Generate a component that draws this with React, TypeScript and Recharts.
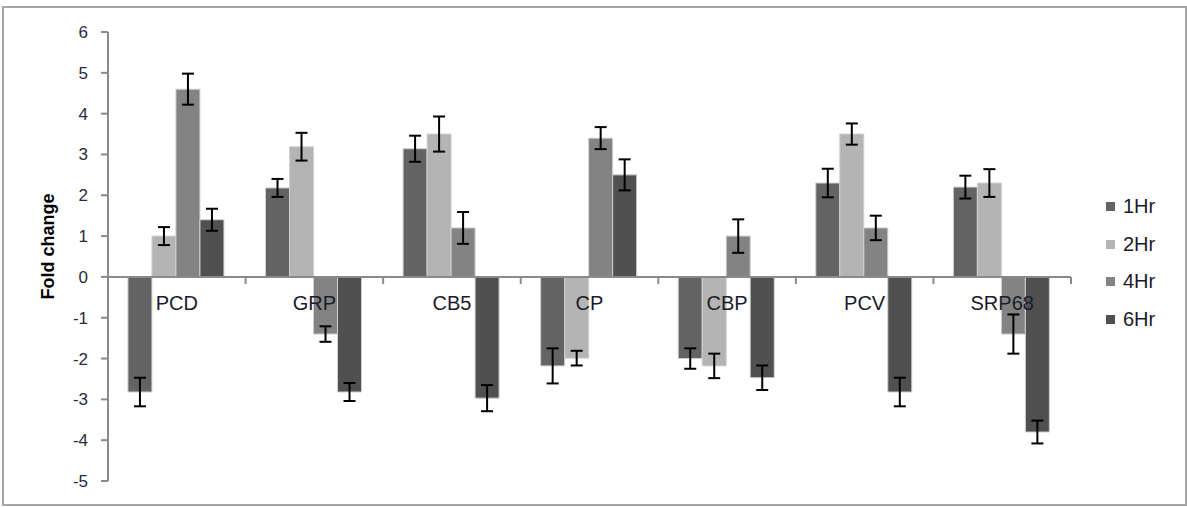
import { BarChart, Bar, XAxis, YAxis, ErrorBar, ReferenceLine, Legend } from "recharts";

const genes = ["PCD", "GRP", "CB5", "CP", "CBP", "PCV", "SRP68"];
const hr1 = [-2.82, 2.18, 3.14, -2.18, -2.0, 2.3, 2.2];
const hr2 = [1.0, 3.19, 3.5, -1.99, -2.18, 3.5, 2.3];
const hr4 = [4.6, -1.4, 1.2, 3.4, 1.0, 1.2, -1.4];
const hr6 = [1.4, -2.82, -2.97, 2.5, -2.47, -2.82, -3.8];
const err1 = [0.35, 0.22, 0.32, 0.43, 0.25, 0.35, 0.28];
const err2 = [0.22, 0.34, 0.43, 0.18, 0.3, 0.26, 0.34];
const err4 = [0.38, 0.19, 0.39, 0.27, 0.41, 0.3, 0.48];
const err6 = [0.27, 0.22, 0.32, 0.38, 0.3, 0.35, 0.28];
const yTicks = [-5, -4, -3, -2, -1, 0, 1, 2, 3, 4, 5, 6];

const series = [
  { key: "h1", err: "e1", name: "1Hr", color: "#636363" },
  { key: "h2", err: "e2", name: "2Hr", color: "#b4b4b4" },
  { key: "h4", err: "e4", name: "4Hr", color: "#838383" },
  { key: "h6", err: "e6", name: "6Hr", color: "#505050" },
];

const data = genes.map((g, i) => ({
  gene: g,
  h1: hr1[i], h2: hr2[i], h4: hr4[i], h6: hr6[i],
  e1: err1[i], e2: err2[i], e4: err4[i], e6: err6[i],
}));

// zero line acting as the category axis, with labels just under it
const ZeroAxis = (props: any) => {
  const { x1, y1, x2 } = props;
  const step = (x2 - x1) / genes.length;
  return (
    <g>
      <line x1={x1} y1={y1} x2={x2} y2={y1} stroke="#8a8a8a" strokeWidth={2} />
      {genes.map((g, i) => (
        <line key={"t" + i} x1={x1 + step * (i + 1)} y1={y1} x2={x1 + step * (i + 1)} y2={y1 + 7} stroke="#8a8a8a" strokeWidth={2} />
      ))}
      {genes.map((g, i) => (
        <text key={g} x={x1 + step * (i + 0.5)} y={y1 + 33} textAnchor="middle" fontSize={20} fill="#1a1a2a">
          {g}
        </text>
      ))}
    </g>
  );
};

const LegendBox = () => (
  <div style={{ position: "absolute", left: 1106, top: 188 }}>
    {series.map((s) => (
      <div key={s.key} style={{ display: "flex", alignItems: "center", height: 37.5 }}>
        <span style={{ width: 9, height: 9, background: s.color, display: "inline-block", marginRight: 8 }} />
        <span style={{ fontSize: 20, color: "#1a1a2a" }}>{s.name}</span>
      </div>
    ))}
  </div>
);

export default function App() {
  return (
    <div style={{ position: "absolute", left: 0, top: 0, width: 1187, height: 507, background: "#fff", fontFamily: "'Liberation Sans', Arial, sans-serif" }}>
      <div style={{ position: "absolute", left: 2, top: 6, width: 1181, height: 496, border: "2px solid #a6a6a6" }} />
      <BarChart width={1187} height={507} data={data} margin={{ top: 32, right: 116, bottom: 26, left: 48 }} barCategoryGap="14.5%" barGap={0}>
        <XAxis dataKey="gene" hide />
        <YAxis
          width={60}
          domain={[-5, 6]}
          ticks={yTicks}
          interval={0}
          allowDataOverflow
          stroke="#8a8a8a"
          strokeWidth={2}
          tickSize={7}
          tickMargin={13}
          tick={{ fontSize: 17, fill: "#2a2a3a" }}
          label={(p: any) => {
            const vb = p.viewBox;
            const cx = vb.x;
            const cy = vb.y + vb.height / 2 - 10;
            return (
              <text x={cx} y={cy} transform={`rotate(-90 ${cx} ${cy})`} textAnchor="middle" dominantBaseline="central" fontSize={18} fontWeight="bold" fill="#000">
                Fold change
              </text>
            );
          }}
        />
        {series.map((s) => (
          <Bar key={s.key} dataKey={s.key} name={s.name} fill={s.color} stroke="#d0d0d0" strokeWidth={1} isAnimationActive={false}>
            <ErrorBar dataKey={s.err} width={6} stroke="#000" strokeWidth={2} />
          </Bar>
        ))}
        <ReferenceLine y={0} shape={ZeroAxis} />
        <Legend content={() => <LegendBox />} wrapperStyle={{ position: "absolute", left: 0, top: 0, width: 0, height: 0 }} />
      </BarChart>
    </div>
  );
}
